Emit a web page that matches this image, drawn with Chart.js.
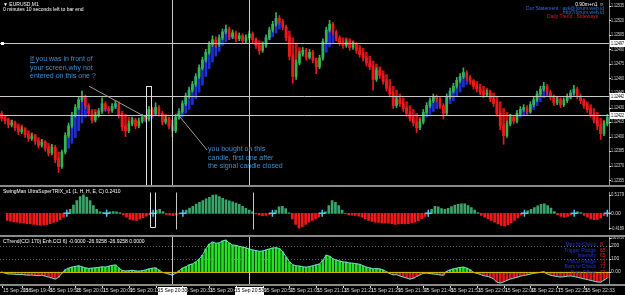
<!DOCTYPE html>
<html>
<head>
<meta charset="utf-8">
<title>EURUSD,M1</title>
<script src="https://cdn.jsdelivr.net/npm/chart.js@4.4.1/dist/chart.umd.min.js"></script>
<style>
  html, body { margin: 0; padding: 0; background: #000; }
  #wrap { position: relative; width: 625px; height: 295px; overflow: hidden; background: #000; }
  #wrap canvas { position: absolute; left: 0; }
  .sep { position: absolute; left: 0; width: 625px; height: 2px; background: #8a8a8a; }
</style>
</head>
<body>
<div id="wrap">
  <canvas id="priceChart" width="625" height="185" style="top:0"></canvas>
  <div class="sep" style="top:185px"></div>
  <canvas id="trixChart" width="625" height="48" style="top:187px"></canvas>
  <div class="sep" style="top:235px"></div>
  <canvas id="cciChart" width="625" height="58" style="top:237px"></canvas>
</div>
<script>
// EURUSD M1 candles, one per minute
const opens = [
  1.12423,1.12419,1.12416,1.12412,1.12414,1.12409,1.12405,1.12407,1.12402,1.12398,
  1.12400,1.12395,1.12391,1.12394,1.12388,1.12383,1.12389,1.12376,1.12369,1.12384,
  1.12401,1.12411,1.12422,1.12430,1.12438,1.12441,1.12432,1.12424,1.12417,1.12422,
  1.12426,1.12434,1.12429,1.12427,1.12431,1.12434,1.12422,1.12410,1.12406,1.12413,
  1.12417,1.12411,1.12416,1.12420,1.12418,1.12428,1.12424,1.12430,1.12424,1.12415,
  1.12418,1.12411,1.12406,1.12420,1.12426,1.12434,1.12442,1.12448,1.12454,1.12462,
  1.12471,1.12479,1.12487,1.12495,1.12500,1.12495,1.12502,1.12508,1.12511,1.12503,
  1.12507,1.12501,1.12504,1.12499,1.12502,1.12506,1.12500,1.12494,1.12489,1.12494,
  1.12502,1.12510,1.12516,1.12522,1.12519,1.12513,1.12502,1.12483,1.12462,1.12476,
  1.12485,1.12489,1.12482,1.12487,1.12479,1.12472,1.12481,1.12498,1.12510,1.12516,
  1.12508,1.12502,1.12497,1.12494,1.12497,1.12492,1.12495,1.12489,1.12485,1.12481,
  1.12476,1.12472,1.12459,1.12468,1.12463,1.12457,1.12450,1.12444,1.12432,1.12438,
  1.12434,1.12429,1.12424,1.12419,1.12414,1.12409,1.12415,1.12425,1.12432,1.12437,
  1.12441,1.12439,1.12432,1.12424,1.12441,1.12447,1.12452,1.12458,1.12462,1.12466,
  1.12461,1.12457,1.12452,1.12449,1.12446,1.12443,1.12445,1.12439,1.12434,1.12424,
  1.12411,1.12401,1.12413,1.12420,1.12416,1.12424,1.12428,1.12430,1.12426,1.12433,
  1.12438,1.12444,1.12449,1.12452,1.12446,1.12441,1.12435,1.12438,1.12433,1.12437,
  1.12441,1.12445,1.12449,1.12442,1.12437,1.12432,1.12428,1.12423,1.12417,1.12411,
  1.12403,1.12413
];
const closes = [
  1.12419,1.12416,1.12412,1.12414,1.12409,1.12405,1.12407,1.12402,1.12398,1.12400,
  1.12395,1.12391,1.12394,1.12388,1.12383,1.12389,1.12376,1.12369,1.12384,1.12401,
  1.12411,1.12422,1.12430,1.12438,1.12441,1.12432,1.12424,1.12417,1.12422,1.12426,
  1.12434,1.12429,1.12427,1.12431,1.12434,1.12422,1.12410,1.12406,1.12413,1.12417,
  1.12411,1.12416,1.12420,1.12418,1.12428,1.12424,1.12430,1.12424,1.12415,1.12418,
  1.12411,1.12406,1.12420,1.12426,1.12434,1.12442,1.12448,1.12454,1.12462,1.12471,
  1.12479,1.12487,1.12495,1.12500,1.12495,1.12502,1.12508,1.12511,1.12503,1.12507,
  1.12501,1.12504,1.12499,1.12502,1.12506,1.12500,1.12494,1.12489,1.12494,1.12502,
  1.12510,1.12516,1.12522,1.12519,1.12513,1.12502,1.12483,1.12462,1.12476,1.12485,
  1.12489,1.12482,1.12487,1.12479,1.12472,1.12481,1.12498,1.12510,1.12516,1.12508,
  1.12502,1.12497,1.12494,1.12497,1.12492,1.12495,1.12489,1.12485,1.12481,1.12476,
  1.12472,1.12459,1.12468,1.12463,1.12457,1.12450,1.12444,1.12432,1.12438,1.12434,
  1.12429,1.12424,1.12419,1.12414,1.12409,1.12415,1.12425,1.12432,1.12437,1.12441,
  1.12439,1.12432,1.12424,1.12441,1.12447,1.12452,1.12458,1.12462,1.12466,1.12461,
  1.12457,1.12452,1.12449,1.12446,1.12443,1.12445,1.12439,1.12434,1.12424,1.12411,
  1.12401,1.12413,1.12420,1.12416,1.12424,1.12428,1.12430,1.12426,1.12433,1.12438,
  1.12444,1.12449,1.12452,1.12446,1.12441,1.12435,1.12438,1.12433,1.12437,1.12441,
  1.12445,1.12449,1.12442,1.12437,1.12432,1.12428,1.12423,1.12417,1.12411,1.12403,
  1.12413,1.12420
];
const highs = [
  1.12426,1.12421,1.12418,1.12417,1.12416,1.12411,1.12410,1.12409,1.12404,1.12403,
  1.12402,1.12397,1.12397,1.12396,1.12390,1.12392,1.12391,1.12378,1.12386,1.12404,
  1.12414,1.12425,1.12433,1.12441,1.12447,1.12443,1.12434,1.12426,1.12425,1.12429,
  1.12440,1.12436,1.12431,1.12434,1.12437,1.12436,1.12424,1.12412,1.12416,1.12420,
  1.12419,1.12419,1.12423,1.12422,1.12431,1.12430,1.12435,1.12432,1.12426,1.12421,
  1.12420,1.12413,1.12423,1.12429,1.12437,1.12445,1.12451,1.12457,1.12465,1.12474,
  1.12482,1.12490,1.12498,1.12504,1.12503,1.12505,1.12511,1.12515,1.12513,1.12510,
  1.12509,1.12507,1.12506,1.12505,1.12509,1.12508,1.12502,1.12496,1.12497,1.12505,
  1.12513,1.12519,1.12528,1.12525,1.12521,1.12515,1.12504,1.12485,1.12479,1.12488,
  1.12492,1.12491,1.12490,1.12489,1.12481,1.12484,1.12501,1.12513,1.12520,1.12518,
  1.12510,1.12504,1.12499,1.12500,1.12499,1.12498,1.12497,1.12491,1.12487,1.12483,
  1.12478,1.12474,1.12471,1.12470,1.12465,1.12459,1.12452,1.12446,1.12441,1.12440,
  1.12436,1.12431,1.12426,1.12421,1.12416,1.12418,1.12428,1.12435,1.12440,1.12444,
  1.12443,1.12441,1.12434,1.12444,1.12450,1.12455,1.12461,1.12465,1.12471,1.12468,
  1.12463,1.12459,1.12454,1.12451,1.12448,1.12448,1.12447,1.12441,1.12436,1.12426,
  1.12413,1.12416,1.12423,1.12422,1.12427,1.12431,1.12433,1.12432,1.12436,1.12441,
  1.12447,1.12452,1.12456,1.12454,1.12448,1.12443,1.12441,1.12440,1.12440,1.12444,
  1.12448,1.12453,1.12451,1.12444,1.12439,1.12434,1.12430,1.12425,1.12419,1.12413,
  1.12416,1.12423
];
const lows = [
  1.12416,1.12413,1.12409,1.12410,1.12406,1.12402,1.12403,1.12399,1.12395,1.12396,
  1.12392,1.12388,1.12389,1.12385,1.12380,1.12381,1.12373,1.12363,1.12367,1.12382,
  1.12399,1.12409,1.12420,1.12428,1.12436,1.12429,1.12421,1.12414,1.12415,1.12420,
  1.12424,1.12426,1.12424,1.12425,1.12429,1.12419,1.12406,1.12400,1.12404,1.12411,
  1.12408,1.12409,1.12414,1.12415,1.12416,1.12421,1.12422,1.12421,1.12412,1.12413,
  1.12408,1.12400,1.12404,1.12418,1.12424,1.12432,1.12440,1.12446,1.12452,1.12460,
  1.12469,1.12477,1.12485,1.12493,1.12492,1.12493,1.12500,1.12506,1.12500,1.12501,
  1.12498,1.12499,1.12496,1.12497,1.12500,1.12497,1.12491,1.12485,1.12487,1.12492,
  1.12500,1.12508,1.12514,1.12516,1.12510,1.12499,1.12479,1.12455,1.12459,1.12474,
  1.12483,1.12479,1.12480,1.12476,1.12465,1.12470,1.12479,1.12496,1.12508,1.12505,
  1.12499,1.12494,1.12491,1.12492,1.12489,1.12490,1.12486,1.12482,1.12478,1.12473,
  1.12469,1.12448,1.12457,1.12460,1.12454,1.12447,1.12441,1.12429,1.12430,1.12431,
  1.12426,1.12421,1.12416,1.12411,1.12404,1.12407,1.12413,1.12423,1.12430,1.12435,
  1.12436,1.12429,1.12418,1.12422,1.12439,1.12445,1.12450,1.12456,1.12460,1.12458,
  1.12454,1.12449,1.12446,1.12443,1.12440,1.12441,1.12436,1.12431,1.12421,1.12407,
  1.12392,1.12399,1.12411,1.12413,1.12414,1.12422,1.12426,1.12423,1.12424,1.12431,
  1.12436,1.12442,1.12447,1.12443,1.12438,1.12432,1.12433,1.12430,1.12431,1.12435,
  1.12439,1.12443,1.12439,1.12434,1.12429,1.12425,1.12420,1.12414,1.12407,1.12397,
  1.12401,1.12411
];
// trend ribbon level (blue below price = up, red above price = down)
const trail = [
  1.12424,1.12422,1.12419,1.12417,1.12415,1.12413,1.12412,1.12409,1.12406,1.12404,
  1.12402,1.12399,1.12397,1.12395,1.12393,1.12391,1.12388,1.12384,1.12383,1.12384,
  1.12388,1.12393,1.12399,1.12406,1.12414,1.12420,1.12425,1.12428,1.12428,1.12427,
  1.12427,1.12427,1.12427,1.12428,1.12429,1.12428,1.12426,1.12423,1.12420,1.12419,
  1.12417,1.12416,1.12416,1.12416,1.12418,1.12419,1.12422,1.12423,1.12423,1.12423,
  1.12420,1.12417,1.12417,1.12418,1.12420,1.12424,1.12428,1.12433,1.12439,1.12446,
  1.12453,1.12462,1.12470,1.12477,1.12483,1.12488,1.12494,1.12498,1.12500,1.12502,
  1.12503,1.12504,1.12504,1.12503,1.12503,1.12502,1.12501,1.12499,1.12498,1.12498,
  1.12500,1.12503,1.12507,1.12511,1.12513,1.12513,1.12509,1.12502,1.12496,1.12492,
  1.12488,1.12484,1.12481,1.12480,1.12481,1.12481,1.12483,1.12487,1.12493,1.12497,
  1.12499,1.12500,1.12502,1.12502,1.12501,1.12499,1.12496,1.12494,1.12491,1.12487,
  1.12483,1.12478,1.12475,1.12472,1.12468,1.12464,1.12459,1.12452,1.12448,1.12444,
  1.12440,1.12436,1.12432,1.12428,1.12424,1.12420,1.12419,1.12420,1.12423,1.12426,
  1.12429,1.12431,1.12431,1.12432,1.12434,1.12437,1.12441,1.12446,1.12451,1.12454,
  1.12457,1.12458,1.12457,1.12454,1.12452,1.12450,1.12448,1.12445,1.12441,1.12436,
  1.12429,1.12425,1.12423,1.12420,1.12419,1.12420,1.12422,1.12423,1.12425,1.12428,
  1.12432,1.12436,1.12440,1.12442,1.12443,1.12442,1.12441,1.12439,1.12438,1.12438,
  1.12439,1.12441,1.12441,1.12440,1.12438,1.12436,1.12433,1.12429,1.12425,1.12419,
  1.12417,1.12417
];
// SwingMan UltraSuperTRIX histogram
const trix = [
  -0.20,-0.22,-0.24,-0.25,-0.27,-0.28,-0.29,-0.30,-0.31,-0.33,
  -0.34,-0.33,-0.32,-0.29,-0.26,-0.23,-0.18,-0.11,-0.02,0.11,
  0.23,0.36,0.47,0.52,0.46,0.36,0.22,0.11,0.04,0.02,
  -0.02,0.04,0.05,0.04,0.02,-0.04,-0.11,-0.17,-0.19,-0.20,
  -0.16,-0.12,-0.08,-0.04,-0.01,0.09,0.11,0.05,-0.03,-0.05,
  -0.07,-0.05,-0.02,-0.01,0.09,0.15,0.20,0.26,0.31,0.36,
  0.41,0.45,0.51,0.52,0.47,0.42,0.38,0.35,0.32,0.29,
  0.25,0.20,0.14,0.09,0.04,-0.02,-0.04,-0.07,-0.06,-0.03,
  -0.01,0.09,0.18,0.20,0.13,0.01,-0.16,-0.31,-0.42,-0.38,
  -0.31,-0.25,-0.20,-0.15,-0.11,-0.01,0.04,0.22,0.36,0.31,
  0.22,0.09,-0.02,-0.04,-0.05,-0.06,-0.08,-0.11,-0.15,-0.20,
  -0.23,-0.25,-0.26,-0.27,-0.27,-0.28,-0.29,-0.31,-0.30,-0.29,
  -0.30,-0.29,-0.27,-0.25,-0.21,-0.15,-0.09,-0.02,0.11,0.20,
  0.18,0.13,0.11,0.14,0.19,0.23,0.25,0.27,0.27,0.22,
  0.16,0.09,0.02,-0.06,-0.11,-0.15,-0.20,-0.25,-0.30,-0.34,
  -0.36,-0.32,-0.27,-0.20,-0.13,-0.05,-0.01,0.07,0.11,0.16,
  0.21,0.25,0.27,0.22,0.15,0.05,-0.04,-0.09,-0.11,-0.09,
  -0.04,-0.01,0.04,0.02,-0.06,-0.11,-0.16,-0.18,-0.17,-0.13,
  -0.07,-0.01
];
const trixCrossBars = [18, 30, 44, 53, 80, 95, 127, 156, 171, 181];
// Enhanced CCI
const cci = [
  0,-8,-15,-15,-17,-20,-18,-22,-24,-23,
  -26,-28,-25,-31,-38,-46,-54,-40,-10,18,
  30,38,44,48,40,32,28,30,33,36,
  40,38,45,52,54,32,12,8,10,14,
  9,7,10,16,24,30,32,16,-2,-8,
  -16,-24,-10,10,30,40,55,62,78,100,
  130,178,215,231,222,224,240,246,224,208,
  206,198,192,186,177,170,165,160,162,170,
  178,185,188,180,156,116,78,56,48,46,
  40,38,42,48,56,62,92,130,122,102,
  92,85,78,76,70,68,64,60,48,38,
  32,24,28,24,16,2,-12,-22,-20,-30,
  -38,-46,-54,-48,-34,-22,-10,-8,-12,-15,
  -18,-22,-25,6,16,24,30,36,38,30,
  18,-2,-10,-18,-28,-32,-40,-52,-78,-84,
  -76,-64,-54,-46,-40,-32,-26,-22,-16,-10,
  -6,-2,2,-14,-24,-30,-34,-38,-36,-32,
  -30,-34,-40,-46,-52,-58,-64,-70,-76,-78,
  -62,-46
];

// axis / label text
const priceTicks = [1.12535,1.12520,1.12505,1.12490,1.12475,1.12460,1.12445,1.12430,1.12415,1.12400,1.12385,1.12370,1.12355];
const hLevels = [1.12497, 1.12442, 1.12422];
const trixTickValues = [0.5179, 0, -0.4189];
const trixTickText = ['0.5179', '0.00', '-0.4189'];
const cciTickValues = [266, 200, 100, 0];
const cciTickText = ['266.0756', '200', '100', '0.00'];
const cciLevels = [200, 100];
const timeTickBars = [0,6,14,22,30,38,46,54,62,70,78,86,94,102,110,118,126,134,142,150,158,166,174];
const timeTickText = ['15 Sep 2016','15 Sep 19:45','15 Sep 19:53','15 Sep 20:01','15 Sep 20:09','15 Sep 20:17',
  '15 Sep 20:25','15 Sep 20:33','15 Sep 20:41','15 Sep 20:49','15 Sep 20:57','15 Sep 21:05','15 Sep 21:13',
  '15 Sep 21:21','15 Sep 21:29','15 Sep 21:37','15 Sep 21:45','15 Sep 21:53','15 Sep 22:01','15 Sep 22:09',
  '15 Sep 22:17','15 Sep 22:25','15 Sep 22:33'];
const vLineBars = [51, 74];
const vLineText = ['15 Sep 20:30', '15 Sep 20:53'];
const signalBar = 44;
const legendNames = ['Max to Check', 'Trigger Range', 'Intensity', 'Hi/Lo Range', 'Bars to Check', 'Bars Offset'];
const legendValues = ['8', '65', '65', '71', '73', '71'];

const AXIS_W = 16;
const FONT = '"Liberation Sans", Arial, sans-serif';
const GREEN = '#35b552', RED = '#ec1a1a', BLUE = '#1f2fd8', RIB_RED = '#c41414';
const LINE_COL = '#c8c8c8';
const labels = closes.map((c, i) => i);

function baseOptions(yMin, yMax, bottomPad) {
  return {
    responsive: false, animation: false, devicePixelRatio: 1,
    layout: { padding: { left: 0, right: 0, top: 0, bottom: bottomPad } },
    plugins: { legend: { display: false }, tooltip: { enabled: false } },
    scales: {
      x: { type: 'category', offset: true, display: false, grid: { display: false } },
      y: {
        position: 'right', min: yMin, max: yMax,
        ticks: { display: false }, grid: { display: false, drawTicks: false },
        border: { display: true, color: '#8a8a8a', width: 1 },
        afterFit: s => { s.width = AXIS_W; }
      }
    }
  };
}

function px(chart, bar) { return chart.scales.x.getPixelForValue(bar); }
function py(chart, v) { return chart.scales.y.getPixelForValue(v); }

function drawVLines(chart) {
  const { ctx, chartArea: a } = chart;
  ctx.save();
  ctx.strokeStyle = LINE_COL; ctx.lineWidth = 1;
  vLineBars.forEach(b => {
    const x = Math.round(px(chart, b)) + 0.5;
    ctx.beginPath(); ctx.moveTo(x, a.top); ctx.lineTo(x, a.bottom); ctx.stroke();
  });
  ctx.restore();
}

function drawAxisText(chart, values, texts) {
  const { ctx, chartArea: a } = chart;
  ctx.save();
  ctx.font = '5px ' + FONT; ctx.fillStyle = '#d8d8d8';
  ctx.textBaseline = 'middle'; ctx.textAlign = 'left';
  values.forEach((v, i) => {
    const y = py(chart, v);
    ctx.fillRect(a.right, Math.round(y), 2, 1);
    ctx.fillText(texts[i], a.right + 2, y, AXIS_W - 3);
  });
  ctx.restore();
}

const pricePlugin = {
  id: 'priceOverlay',
  afterDatasetsDraw(chart) {
    const { ctx, chartArea: a } = chart;
    ctx.save();
    // horizontal lines
    ctx.strokeStyle = LINE_COL; ctx.lineWidth = 1;
    hLevels.forEach(v => {
      const y = Math.round(py(chart, v)) + 0.5;
      ctx.beginPath(); ctx.moveTo(a.left, y); ctx.lineTo(a.right, y); ctx.stroke();
    });
    ctx.fillStyle = '#ffffff';
    ctx.fillRect(1, Math.round(py(chart, hLevels[0])) - 1, 3, 3);
    ctx.restore();
    drawVLines(chart);
    // box around the signal candle
    ctx.save();
    ctx.strokeStyle = '#e0e0e0'; ctx.lineWidth = 1;
    const sx = Math.round(px(chart, signalBar));
    const top = Math.round(py(chart, 1.12452));
    ctx.strokeRect(sx - 2.5, top + 0.5, 5, a.bottom - top);
    // pointer lines
    ctx.strokeStyle = '#9a9a9a';
    [[26.1, 1.12452, 43.1, 1.12420], [52.4, 1.12424, 61.4, 1.12386]].forEach(l => {
      ctx.beginPath();
      ctx.moveTo(px(chart, l[0]), py(chart, l[1]));
      ctx.lineTo(px(chart, l[2]), py(chart, l[3]));
      ctx.stroke();
    });
    // notes
    ctx.fillStyle = '#3f8fcf'; ctx.font = '7px ' + FONT; ctx.textBaseline = 'alphabetic';
    ['If you was in front of', 'your screen,why not', 'entered on this one ?'].forEach((t, i) => ctx.fillText(t, 30, 61 + i * 8.5));
    ctx.fillRect(30, 62, 5, 0.8);
    ['you bought on this', 'candle, first one after', 'the signal candle closed'].forEach((t, i) => ctx.fillText(t, 208, 151 + i * 8.5));
    // header
    ctx.font = '5px ' + FONT; ctx.fillStyle = '#ffffff';
    ctx.fillText('\u25BC EURUSD,M1', 3, 6);
    ctx.fillText('0 minutes 10 seconds left to bar end', 3, 11);
    ctx.textAlign = 'right';
    ctx.fillText('0.90m+n1 \u263A', 604, 6);
    ctx.fillStyle = '#2f6fe0';
    ctx.fillText('Our Statement : ask@forum.web.id', 604, 10);
    ctx.fillText('http://forum.web.id', 604, 14);
    ctx.fillStyle = '#e02020';
    ctx.fillText('Daily Trend : Sideways', 598, 18);
    ctx.restore();
    drawAxisText(chart, priceTicks, priceTicks.map(v => v.toFixed(5)));
    // highlighted labels of the horizontal lines
    ctx.save();
    ctx.font = '5px ' + FONT; ctx.textBaseline = 'middle';
    hLevels.forEach(v => {
      const y = Math.round(py(chart, v));
      ctx.fillStyle = '#ffffff'; ctx.fillRect(a.right + 1, y - 3, AXIS_W - 1, 7);
      ctx.fillStyle = '#000000'; ctx.fillText(v.toFixed(5), a.right + 2, y + 0.5, AXIS_W - 3);
    });
    ctx.restore();
  }
};

const trixPlugin = {
  id: 'trixOverlay',
  afterDatasetsDraw(chart) {
    const { ctx, chartArea: a } = chart;
    drawVLines(chart);
    ctx.save();
    ctx.strokeStyle = '#e0e0e0'; ctx.lineWidth = 1;
    const sx = Math.round(px(chart, signalBar));
    const bot = Math.round(py(chart, -0.38));
    ctx.beginPath();
    ctx.moveTo(sx - 2.5, a.top); ctx.lineTo(sx - 2.5, bot + 0.5);
    ctx.lineTo(sx + 2.5, bot + 0.5); ctx.lineTo(sx + 2.5, a.top);
    ctx.stroke();
    ctx.font = '5px ' + FONT; ctx.fillStyle = '#ffffff'; ctx.textBaseline = 'alphabetic';
    ctx.fillText('SwingMan UltraSuperTRIX_v1 (1, H, H, E, C) 0.2410', 3, 6);
    ctx.restore();
    drawAxisText(chart, trixTickValues, trixTickText);
  }
};

const cciPlugin = {
  id: 'cciOverlay',
  beforeDatasetsDraw(chart) {
    const { ctx, chartArea: a } = chart;
    ctx.save();
    ctx.strokeStyle = '#6a6a6a'; ctx.lineWidth = 1; ctx.setLineDash([1, 2]);
    cciLevels.forEach(v => {
      const y = Math.round(py(chart, v)) + 0.5;
      ctx.beginPath(); ctx.moveTo(a.left, y); ctx.lineTo(a.right, y); ctx.stroke();
    });
    ctx.restore();
  },
  afterDatasetsDraw(chart) {
    const { ctx, chartArea: a } = chart;
    ctx.save();
    const y0 = Math.round(py(chart, 0)) + 0.5;
    ctx.strokeStyle = '#d2b400'; ctx.lineWidth = 1;
    ctx.beginPath(); ctx.moveTo(a.left, y0); ctx.lineTo(a.right, y0); ctx.stroke();
    ctx.restore();
    drawVLines(chart);
    ctx.save();
    ctx.font = '5px ' + FONT; ctx.fillStyle = '#ffffff'; ctx.textBaseline = 'alphabetic';
    ctx.fillText('CTrend(CCI 170) Enh.CCI 6) -0.0000 -26.9258 -26.9258 0.0000', 3, 6);
    // legend box
    legendNames.forEach((t, i) => {
      ctx.textAlign = 'right'; ctx.fillStyle = '#2036e0';
      ctx.fillText(t, 596, 9 + i * 5.6);
      ctx.textAlign = 'left'; ctx.fillStyle = '#e82020';
      ctx.fillText(legendValues[i], 600, 9 + i * 5.6);
    });
    // bottom border
    ctx.fillStyle = '#8a8a8a';
    ctx.fillRect(0, a.bottom, chart.width, 2);
    // time axis
    ctx.textAlign = 'left'; ctx.textBaseline = 'middle'; ctx.fillStyle = '#d8d8d8';
    timeTickBars.forEach((b, i) => {
      const x = Math.round(px(chart, b));
      ctx.fillRect(x, a.bottom + 2, 1, 2);
      ctx.fillText(timeTickText[i], x + 1, a.bottom + 7);
    });
    vLineBars.forEach((b, i) => {
      const x = Math.round(px(chart, b));
      ctx.fillStyle = '#ffffff'; ctx.fillRect(x - 14, a.bottom + 3, 29, 8);
      ctx.fillStyle = '#000000'; ctx.textAlign = 'center';
      ctx.fillText(vLineText[i], x + 0.5, a.bottom + 7);
    });
    ctx.restore();
    drawAxisText(chart, cciTickValues, cciTickText);
  }
};

const candleColors = closes.map((c, i) => c >= opens[i] ? GREEN : RED);

new Chart(document.getElementById('priceChart'), {
  type: 'bar',
  data: {
    labels: labels,
    datasets: [
      { data: closes.map((c, i) => [opens[i], c]), backgroundColor: candleColors,
        barThickness: 2, grouped: false, minBarLength: 1, order: 1 },
      { data: lows.map((l, i) => [l, highs[i]]), backgroundColor: candleColors,
        barThickness: 1, grouped: false, order: 2 },
      { data: closes.map((c, i) => [c, trail[i]]),
        backgroundColor: closes.map((c, i) => trail[i] < c ? BLUE : RIB_RED),
        barThickness: 2, grouped: false, order: 3 }
    ]
  },
  options: baseOptions(1.12350, 1.12541, 0),
  plugins: [pricePlugin]
});

new Chart(document.getElementById('trixChart'), {
  type: 'bar',
  data: {
    labels: labels,
    datasets: [
      { type: 'line', data: labels.map(i => trixCrossBars.includes(i) ? 0 : null),
        showLine: false, pointStyle: 'cross', pointRadius: 3.5, borderWidth: 1.5,
        borderColor: '#58c8f0', order: 1 },
      { data: trix, backgroundColor: trix.map(v => v >= 0 ? '#3aa56a' : '#f01818'),
        barThickness: 2, grouped: false, order: 2 }
    ]
  },
  options: baseOptions(-0.456, 0.586, 0),
  plugins: [trixPlugin]
});

new Chart(document.getElementById('cciChart'), {
  type: 'bar',
  data: {
    labels: labels,
    datasets: [
      { type: 'line', data: cci, borderColor: '#70d8d8', borderWidth: 1,
        pointRadius: 0, tension: 0, order: 1 },
      { data: cci, backgroundColor: cci.map(v => v >= 0 ? '#28e028' : '#e01818'),
        barThickness: 2, grouped: false, order: 2 }
    ]
  },
  options: baseOptions(-92, 270, 11),
  plugins: [cciPlugin]
});
</script>
</body>
</html>
